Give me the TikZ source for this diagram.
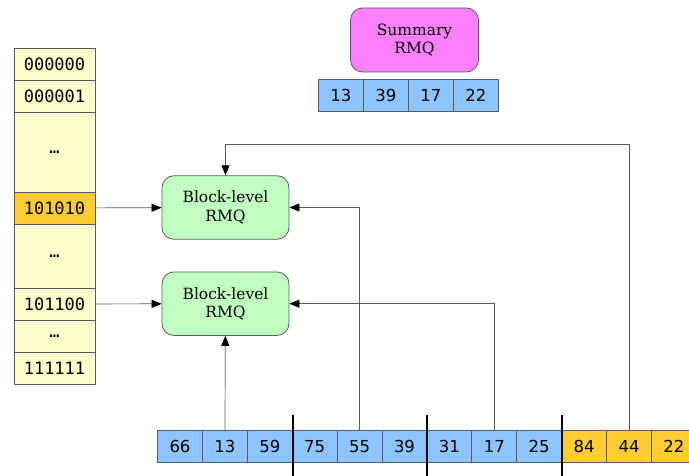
\documentclass[tikz,border=0pt]{standalone}
\usepackage{fontspec}
\newfontfamily\bitfont{DejaVu Sans Mono}
\newfontfamily\numfont{DejaVu Sans}
\newfontfamily\boxfont{DejaVu Serif}
\usetikzlibrary{arrows.meta}
\definecolor{cellblue}{RGB}{142,196,255}
\definecolor{cellgold}{RGB}{255,204,51}
\definecolor{bitpale}{RGB}{255,255,204}
\definecolor{rmqgreen}{RGB}{192,255,192}
\definecolor{rmqpink}{RGB}{255,128,255}
\definecolor{edgegray}{RGB}{90,90,90}
\tikzset{
  cell/.style={draw=edgegray, line width=0.8pt, inner sep=0pt, fill=cellblue,
    minimum width=44.9pt, minimum height=32.5pt,
    font=\numfont\fontsize{16.5}{18}\selectfont},
  bit/.style={draw=edgegray, line width=0.8pt, inner sep=0pt, fill=bitpale,
    minimum width=81pt, font=\bitfont\fontsize{17}{18}\selectfont},
  rmq/.style={draw=edgegray, line width=0.8pt, rounded corners=12pt, align=center,
    minimum width=127pt, minimum height=63.5pt,
    font=\boxfont\fontsize{15.5}{18.3}\selectfont},
  link/.style={draw=edgegray, line width=0.7pt,
    -{Triangle[length=10pt,width=8pt,color=black]}},
  split/.style={line width=2pt},
}
\begin{document}
\begin{tikzpicture}[x=1pt,y=-1pt]
  \useasboundingbox (0,0) rectangle (689,476);
  % bit-pattern column
  \foreach \name/\lab/\yc/\hgt/\col in {r0/000000/64/32/bitpale, r1/000001/96/32/bitpale,
      d0/\dots/152/80/bitpale, r2/101010/208/32/cellgold, d1/\dots/256/64/bitpale,
      r3/101100/304/32/bitpale, d2/\dots/336/32/bitpale, r4/111111/368/32/bitpale}
    \node[bit, minimum height=\hgt pt, fill=\col] (\name) at (54.5,\yc) {\lab};

  % rmq boxes
  \node[rmq, fill=rmqpink, minimum width=128pt, minimum height=64pt] (summary) at (414.5,40) {Summary\\RMQ};
  \node[rmq, fill=rmqgreen] (blockA) at (225.5,207.5) {Block-level\\RMQ};
  \node[rmq, fill=rmqgreen] (blockB) at (225.5,303.7) {Block-level\\RMQ};

  % summary array
  \foreach \v [count=\i from 0] in {13,39,17,22}
    \node[cell, minimum height=32pt] (s\i) at (340.8+45*\i,95.5) {\v};

  % main array
  \foreach \v/\col [count=\i from 0] in {66/cellblue,13/cellblue,59/cellblue,75/cellblue,
      55/cellblue,39/cellblue,31/cellblue,17/cellblue,25/cellblue,84/cellgold,44/cellgold,22/cellgold}
    \node[cell, fill=\col] (a\i) at (180+44.9*\i,446.5) {\v};

  % block separators
  \foreach \i in {2,5,8}
    \draw[split] (a\i.east) ++(0,-32) -- ++(0,62);

  \coordinate (bend) at (225.5,144);
  \begin{scope}
    \draw[link] (r2) -- (blockA);
    \draw[link] (r3) -- (blockB);
    \draw[link] (a1) -- (blockB);
    \draw[link] (a4) |- (blockA);
    \draw[link] (a7) |- (blockB);
    \draw[link] (a10) |- (bend) -- (blockA);
  \end{scope}
\end{tikzpicture}
\end{document}
